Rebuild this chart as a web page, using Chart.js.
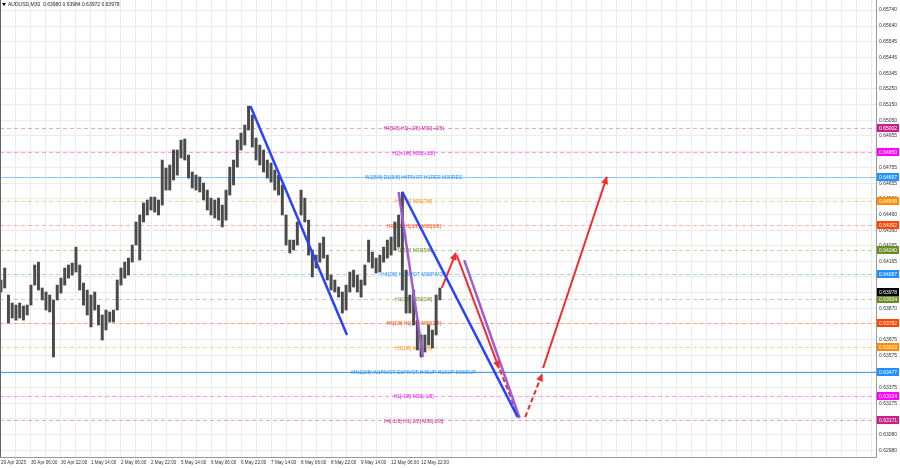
<!DOCTYPE html>
<html>
<head>
<meta charset="utf-8">
<script src="https://cdn.jsdelivr.net/npm/chart.js@4.4.1/dist/chart.umd.min.js"></script>
<style>
  html, body { margin: 0; padding: 0; background: #fff; }
  #wrap { width: 900px; height: 468px; }
</style>
</head>
<body>
<div id="wrap"><canvas id="chart" width="900" height="468"></canvas></div>
<script>
// AUDUSD M30, price, 4 bars per group (high / low)
const symbolName = 'AUDUSD,M30';
const lastOHLC = [0.63980, 0.63984, 0.63972, 0.63978];
const currentPrice = 0.63978;

const candleHigh = [0.64050,0.64125,0.63956,0.63906,0.63893,0.63906,0.63887,0.63893,0.64018,0.64144,
  0.64162,0.64000,0.63975,0.63956,0.63925,0.64018,0.64062,0.64125,0.64144,0.64156,
  0.64256,0.64144,0.64031,0.63987,0.63956,0.63975,0.63893,0.63831,0.63862,0.63850,
  0.63862,0.64050,0.64125,0.64162,0.64187,0.64269,0.64413,0.64457,0.64532,0.64551,
  0.64569,0.64569,0.64551,0.64801,0.64751,0.64770,0.64864,0.64864,0.64926,0.64933,
  0.64832,0.64726,0.64707,0.64695,0.64657,0.64613,0.64563,0.64551,0.64563,0.64519,
  0.64613,0.64757,0.64801,0.64926,0.64970,0.65020,0.65139,0.65083,0.64939,0.64895,
  0.64864,0.64801,0.64782,0.64738,0.64707,0.64645,0.64457,0.64300,0.64300,0.64413,
  0.64613,0.64563,0.64425,0.64238,0.64206,0.64281,0.64319,0.64206,0.64081,0.64050,
  0.64006,0.63975,0.64018,0.64100,0.64112,0.64081,0.64050,0.64144,0.64300,0.64225,
  0.64187,0.64206,0.64256,0.64300,0.64319,0.64413,0.64457,0.64601,0.64112,0.63956,
  0.63987,0.63799,0.63706,0.63706,0.63768,0.63737,0.63956,0.64000];

const candleLow = [0.63975,0.64000,0.63781,0.63812,0.63799,0.63812,0.63799,0.63831,0.63893,0.64018,
  0.63987,0.63925,0.63862,0.63850,0.63568,0.63925,0.63968,0.64018,0.64062,0.64081,
  0.64100,0.63987,0.63893,0.63831,0.63756,0.63862,0.63768,0.63674,0.63737,0.63787,
  0.63787,0.63862,0.64018,0.64062,0.64081,0.64162,0.64269,0.64175,0.64413,0.64457,
  0.64488,0.64475,0.64457,0.64519,0.64613,0.64613,0.64676,0.64707,0.64814,0.64801,
  0.64688,0.64626,0.64613,0.64601,0.64551,0.64488,0.64457,0.64438,0.64425,0.64382,
  0.64425,0.64582,0.64645,0.64757,0.64864,0.64895,0.64989,0.64882,0.64801,0.64770,
  0.64726,0.64688,0.64663,0.64613,0.64582,0.64457,0.64269,0.64219,0.64238,0.64269,
  0.64457,0.64413,0.64206,0.64069,0.64125,0.64162,0.64187,0.64050,0.63987,0.63975,
  0.63943,0.63843,0.63862,0.63975,0.64006,0.63975,0.63943,0.64018,0.64162,0.64125,
  0.64094,0.64100,0.64162,0.64187,0.64206,0.64238,0.64256,0.63987,0.63843,0.63843,
  0.63768,0.63612,0.63568,0.63599,0.63643,0.63624,0.63706,0.63925];
const barsPerGroup = 4;

// time axis (bar number -> label)
const timeTickBars = [0,32,64,96,128,160,192,224,256,288,320,352,384,416,448];
const timeLabels = ['29 Apr 2025','30 Apr 06:00','30 Apr 22:00','1 May 14:00','2 May 06:00','2 May 22:00',
  '5 May 14:00','6 May 06:00','6 May 22:00','7 May 14:00','8 May 06:00','8 May 22:00',
  '9 May 14:00','12 May 06:00','12 May 22:00'];

// price axis
const priceTicks = [0.65740,0.65640,0.65545,0.65445,0.65345,0.65250,0.65150,0.65050,0.64955,0.64855,
  0.64755,0.64655,0.64560,0.64460,0.64360,0.64265,0.64165,0.64070,0.63970,0.63870,
  0.63775,0.63675,0.63575,0.63475,0.63375,0.63275,0.63180,0.63080,0.62980];

// murrey levels
const levelPrices = [0.65002,0.64850,0.64697,0.64545,0.64392,0.64240,0.64087,0.63934,0.63782,0.63629,0.63477,0.63324,0.63171];
const levelLabels = [
  'H4[5/8] H1[+2/8] M30[+2/8]',
  'H1[+1/8] M30[+1/8]',
  'W1[5/8] D1[5/8] H4PIVOT H1RES M30RES',
  'H1[7/8] M30[7/8]',
  'H4[3/8] H1[6/8] M30[6/8]',
  'H1[5/8] M30[5/8]',
  'H4[2/8] H1PIVOT M30PIVOT',
  'H1[3/8] M30[3/8]',
  'H4[1/8] H1[2/8] M30[2/8]',
  'H1[1/8] M30[1/8]',
  'MN1[2/8] W1PIVOT D1PIVOT H4SUP H1SUP M30SUP',
  'H1[-1/8] M30[-1/8]',
  'H4[-1/8] H1[-2/8] M30[-2/8]'
];

// drawn lines: [bar, price]
const blueLine1 = [[266, 0.65139], [369, 0.63706]];
const blueLine2 = [[428, 0.64601], [551, 0.63192]];
const purpleLine1 = [[424, 0.64601], [450, 0.63568]];
const purpleLine2 = [[494, 0.64175], [553, 0.63186]];
const redUp1 = [[470, 0.64000], [485, 0.64219]];
const redDown = [[486, 0.64206], [531, 0.63499]];
const redDownDash = [[532, 0.63487], [552, 0.63192]];
const redUpDash = [[559, 0.63192], [577, 0.63461]];
const redUp2 = [[578, 0.63499], [646, 0.64695]];

// styles
const VR = '#c8208a', MG = '#ff00ff', DB = '#1e90ff', OR = '#ff8c00', RD = '#ff4500', OL = '#6b8e23';
const levelColors = [VR, MG, DB, OR, RD, OL, DB, OL, RD, OR, DB, MG, VR];
const levelSolid = [false,false,true,false,false,false,false,false,false,false,true,false,false];
const FONT = '"Liberation Sans", Arial, sans-serif';
const labelBar = 440;

const pts = arr => arr.map(p => ({x: p[0], y: p[1]}));
function lineSet(arr, color, width, dashed, arrow) {
  return {
    type: 'line', data: pts(arr), borderColor: color, borderWidth: width,
    borderDash: dashed ? [5, 3] : [], pointRadius: 0, fill: false, tension: 0,
    arrowHead: arrow, order: 1
  };
}

const levelsPlugin = {
  id: 'levels',
  beforeDatasetsDraw(chart) {
    const {ctx, chartArea: a, scales: {x, y}} = chart;
    ctx.save();
    ctx.beginPath();
    ctx.rect(a.left, a.top, a.right - a.left, a.bottom - a.top);
    ctx.clip();
    levelPrices.forEach((p, i) => {
      const py = Math.round(y.getPixelForValue(p)) + 0.5;
      ctx.strokeStyle = levelColors[i];
      ctx.globalAlpha = levelSolid[i] ? (i === 10 ? 0.85 : 0.5) : 0.4;
      ctx.setLineDash(levelSolid[i] ? [] : [4, 3]);
      ctx.lineWidth = 1;
      ctx.beginPath();
      ctx.moveTo(a.left, py);
      ctx.lineTo(a.right, py);
      ctx.stroke();
    });
    ctx.globalAlpha = 1;
    ctx.setLineDash([]);
    ctx.font = '5px ' + FONT;
    ctx.textAlign = 'center';
    ctx.textBaseline = 'middle';
    const lx = x.getPixelForValue(labelBar);
    levelPrices.forEach((p, i) => {
      ctx.fillStyle = levelColors[i];
      ctx.fillText(levelLabels[i], lx, y.getPixelForValue(p) + 1);
    });
    ctx.restore();
  },
  afterDatasetsDraw(chart) {
    const ctx = chart.ctx;
    chart.data.datasets.forEach((ds, i) => {
      if (!ds.arrowHead) return;
      const d = chart.getDatasetMeta(i).data;
      const p0 = d[d.length - 2], p1 = d[d.length - 1];
      const ang = Math.atan2(p1.y - p0.y, p1.x - p0.x);
      ctx.save();
      ctx.translate(p1.x, p1.y);
      ctx.rotate(ang);
      ctx.fillStyle = ds.borderColor;
      ctx.beginPath();
      ctx.moveTo(1, 0);
      ctx.lineTo(-7, -3.5);
      ctx.lineTo(-7, 3.5);
      ctx.closePath();
      ctx.fill();
      ctx.restore();
    });
  },
  afterDraw(chart) {
    const {ctx, chartArea: a, scales: {y}} = chart;
    ctx.save();
    // left border
    ctx.strokeStyle = '#666';
    ctx.lineWidth = 1;
    ctx.beginPath();
    ctx.moveTo(0.5, a.top);
    ctx.lineTo(0.5, a.bottom);
    ctx.stroke();
    // price tags
    ctx.font = '5px ' + FONT;
    ctx.textAlign = 'left';
    ctx.textBaseline = 'middle';
    const tag = (p, bg, fg) => {
      const py = Math.round(y.getPixelForValue(p));
      ctx.fillStyle = bg;
      ctx.fillRect(a.right + 1, py - 4, 900 - a.right - 2, 8);
      ctx.fillStyle = fg;
      ctx.fillText(p.toFixed(5), a.right + 3, py + 0.5);
    };
    levelPrices.forEach((p, i) => tag(p, levelColors[i], '#fff'));
    tag(currentPrice, '#000', '#fff');
    // header
    ctx.fillStyle = '#000';
    ctx.beginPath();
    ctx.moveTo(2, 3); ctx.lineTo(6, 3); ctx.lineTo(4, 6); ctx.closePath();
    ctx.fill();
    ctx.fillStyle = '#222';
    ctx.fillText(symbolName + '  ' + lastOHLC.map(v => v.toFixed(5)).join(' '), 8, 5);
    ctx.restore();
  }
};

const gridBars = [];
for (let b = 0; b <= 928; b += 16) gridBars.push(b);

new Chart(document.getElementById('chart').getContext('2d'), {
  type: 'bar',
  data: {
    datasets: [
      lineSet(blueLine1, '#2743ff', 2.5, false, false),
      lineSet(blueLine2, '#2743ff', 2.5, false, false),
      lineSet(purpleLine1, '#a05cd6', 2.5, false, false),
      lineSet(purpleLine2, '#a05cd6', 2.5, false, false),
      lineSet(redUp1, '#f52a2a', 2, false, true),
      lineSet(redDown, '#f52a2a', 2, false, true),
      lineSet(redDownDash, '#f52a2a', 2, true, false),
      lineSet(redUpDash, '#f52a2a', 2, true, true),
      lineSet(redUp2, '#f52a2a', 2, false, true),
      {
        type: 'bar',
        data: candleHigh.map((h, i) => ({x: i * barsPerGroup, y: [candleLow[i], h]})),
        backgroundColor: '#4a4a4a',
        barThickness: 2.3,
        borderWidth: 0,
        order: 2
      }
    ]
  },
  options: {
    responsive: false,
    animation: false,
    events: [],
    layout: { padding: 0 },
    plugins: { legend: { display: false }, tooltip: { enabled: false } },
    scales: {
      x: {
        type: 'linear', min: -1, max: 933, offset: false,
        afterBuildTicks: s => { s.ticks = gridBars.map(v => ({value: v})); },
        afterFit: s => { s.height = 11; s.paddingLeft = 0; s.paddingRight = 0; },
        ticks: {
          autoSkip: false, maxRotation: 0, minRotation: 0, align: 'start', padding: 1,
          color: '#333', font: { size: 4.6, family: FONT },
          callback: v => { const k = timeTickBars.indexOf(v); return k >= 0 ? timeLabels[k] : ''; }
        },
        grid: { color: '#ececec', tickLength: 2, offset: false },
        border: { color: '#999' }
      },
      y: {
        type: 'linear', position: 'right', min: 0.62942, max: 0.65803,
        afterBuildTicks: s => { s.ticks = priceTicks.map(v => ({value: v})); },
        afterFit: s => { s.width = 24; s.paddingTop = 0; s.paddingBottom = 0; },
        ticks: {
          padding: 1, color: '#333', font: { size: 5, family: FONT },
          callback: v => v.toFixed(5)
        },
        grid: { color: '#ececec', tickLength: 2 },
        border: { color: '#999' }
      }
    }
  },
  plugins: [levelsPlugin]
});
</script>
</body>
</html>
